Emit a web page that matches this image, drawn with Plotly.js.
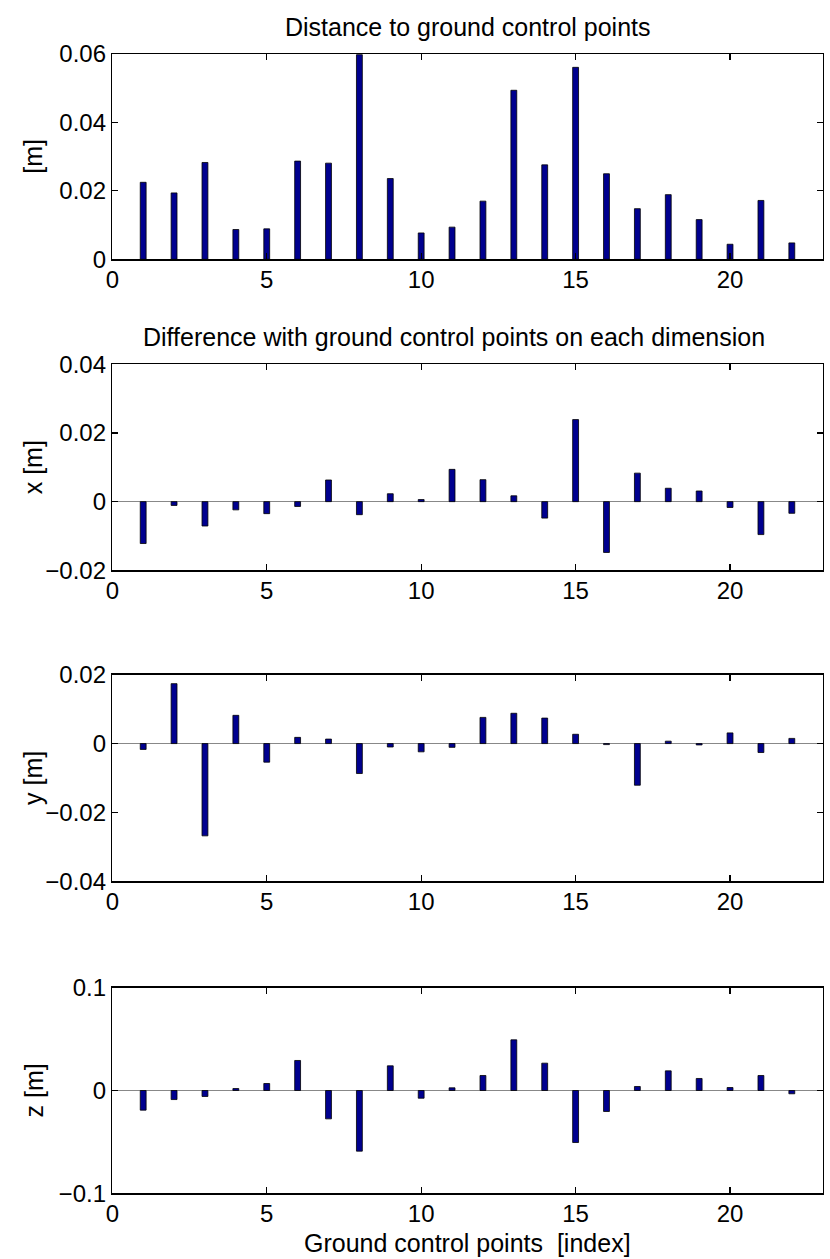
<!DOCTYPE html>
<html>
<head>
<meta charset="utf-8">
<script src="https://cdn.plot.ly/plotly-3.0.1.min.js"></script>
<style>html,body{margin:0;padding:0;background:#fff;}#chart{width:830px;height:1259px;}</style>
</head>
<body>
<div id="chart"></div>
<script>
var pointIndex = [1,2,3,4,5,6,7,8,9,10,11,12,13,14,15,16,17,18,19,20,21,22];
var distance = [0.0225,0.0194,0.0283,0.0087,0.0089,0.0287,0.0281,0.0598,0.0236,0.0077,0.0094,0.0170,0.0494,0.0276,0.0561,0.0250,0.0148,0.0189,0.0116,0.0044,0.0172,0.0048];
var diffX = [-0.0122,-0.0011,-0.0071,-0.0024,-0.0035,-0.0014,0.0063,-0.0038,0.0023,0.0006,0.0094,0.0064,0.0017,-0.0048,0.0239,-0.0148,0.0083,0.0039,0.0031,-0.0017,-0.0096,-0.0034];
var diffY = [-0.0017,0.0174,-0.0268,0.0082,-0.0054,0.0018,0.0013,-0.0087,-0.0010,-0.0024,-0.0011,0.0076,0.0088,0.0074,0.0027,-0.0003,-0.0121,0.0007,-0.0004,0.0031,-0.0026,0.0015];
var diffZ = [-0.0191,-0.0088,-0.0058,0.0019,0.0068,0.0292,-0.0276,-0.0590,0.0240,-0.0075,0.0026,0.0146,0.0493,0.0266,-0.0506,-0.0204,0.0039,0.0191,0.0117,0.0029,0.0146,-0.0032];
var xTickVals = [0,5,10,15,20];
var titles = ["Distance to ground control points", "Difference with ground control points on each dimension"];
var yTitles = ["[m]", "x [m]", "y [m]", "z [m]"];
var xTitle = "Ground control points  [index]";

var FONT = "Liberation Sans, Arial, Helvetica, sans-serif";
var BAR = "rgb(0,0,143)";
var series = [distance, diffX, diffY, diffZ];
var traces = series.map(function(v, i){
  var s = i === 0 ? "" : String(i+1);
  return {type:"bar", x: pointIndex, y: v, xaxis:"x"+s, yaxis:"y"+s, width:0.19,
    marker:{color:BAR, line:{color:"#000", width:0.8}}, hoverinfo:"x+y"};
});

var W = 830, H = 1259;
var xl = 112.3, xr = 822.7;
var boxes = [[54,259.3],[364.3,570.3],[674.7,881.3],[987.7,1193.3]];
var yRanges = [[0,0.06],[-0.02,0.04],[-0.04,0.02],[-0.1,0.1]];
var yDticks = [0.02,0.02,0.02,0.1];

var layout = {width:W, height:H, margin:{l:0,r:0,t:0,b:0}, showlegend:false,
  paper_bgcolor:"#fff", plot_bgcolor:"#fff", bargap:0,
  font:{family:FONT, size:24, color:"#000"}, annotations:[]};

boxes.forEach(function(b, i){
  var s = i === 0 ? "" : String(i+1);
  layout["xaxis"+s] = {domain:[xl/W, xr/W], anchor:"y"+s, range:[0,23], tickvals:xTickVals,
    ticks:"inside", ticklen:6, tickwidth:1.2, tickcolor:"#000", showline:true, linecolor:"#000", linewidth:1.5,
    mirror:"ticks", showgrid:false, zeroline:false, tickfont:{size:24, family:FONT}, ticklabelstandoff:-2, fixedrange:true};
  layout["yaxis"+s] = {domain:[1-b[1]/H, 1-b[0]/H], anchor:"x"+s, range:yRanges[i], dtick:yDticks[i], tick0:0,
    ticks:"inside", ticklen:6, tickwidth:1.2, tickcolor:"#000", showline:true, linecolor:"#000", linewidth:1.5,
    mirror:"ticks", showgrid:false, zeroline: i>0, zerolinecolor:"#888", zerolinewidth:1,
    tickfont:{size:24, family:FONT}, fixedrange:true};
  layout.annotations.push({text:yTitles[i], xref:"paper", yref:"paper", x:33/W, y:1-((b[0]+b[1])/2)/H,
    textangle:-90, showarrow:false, xanchor:"center", yanchor:"middle", font:{size:25, family:FONT}});
});
layout.annotations.push({text:titles[0], xref:"paper", yref:"paper", x:468/W, y:1-27/H, showarrow:false,
  xanchor:"center", yanchor:"middle", font:{size:25, family:FONT}});
layout.annotations.push({text:titles[1], xref:"paper", yref:"paper", x:454/W, y:1-337/H, showarrow:false,
  xanchor:"center", yanchor:"middle", font:{size:25, family:FONT}});
layout.annotations.push({text:xTitle, xref:"paper", yref:"paper", x:467/W, y:1-1243/H, showarrow:false,
  xanchor:"center", yanchor:"middle", font:{size:25, family:FONT}});

Plotly.newPlot("chart", traces, layout, {displayModeBar:false, staticPlot:true});
</script>
</body>
</html>
